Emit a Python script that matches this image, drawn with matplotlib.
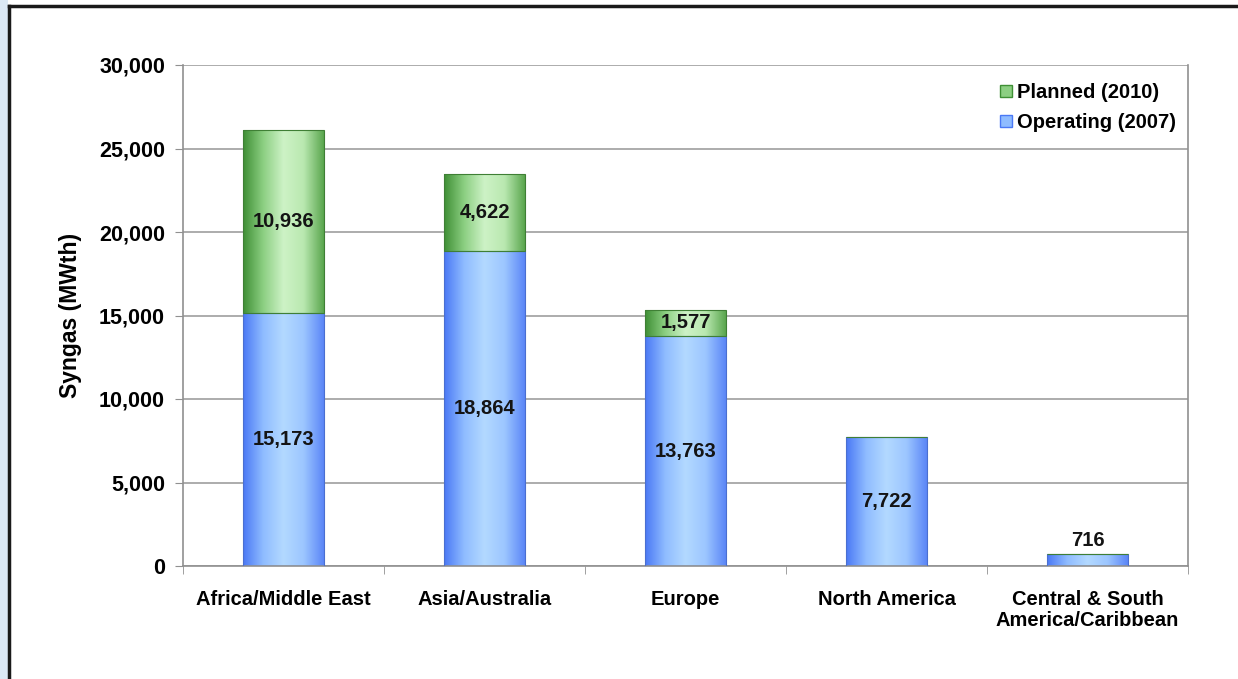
import numpy as np
import matplotlib
matplotlib.use("Agg")
import matplotlib.pyplot as plt
from matplotlib.colors import LinearSegmentedColormap
from matplotlib.patches import Rectangle, Patch

plt.rcParams['font.family'] = ['Liberation Sans', 'DejaVu Sans']
plt.rcParams['font.weight'] = 'bold'

# data
regions = ["Africa/Middle East", "Asia/Australia", "Europe", "North America",
           "Central & South\nAmerica/Caribbean"]
operating = [15173, 18864, 13763, 7722, 716]
planned = [10936, 4622, 1577, 0, 0]

green_cmap = LinearSegmentedColormap.from_list(
    "g", ["#3f8f35", "#8ccf82", "#cdf2c6", "#b9e8b0", "#5aa64e"])
blue_cmap = LinearSegmentedColormap.from_list(
    "b", ["#4a78f5", "#8fbcff", "#b3d9ff", "#9cc6ff", "#5b86f7"])

fig = plt.figure(figsize=(12.38, 6.79), dpi=100)
fig.patch.set_facecolor("white")

# outer frame and left strip
fig.add_artist(Rectangle((0, 0), 8 / 1238, 1, transform=fig.transFigure,
                         facecolor="#dce9f6", edgecolor="none"))
fig.add_artist(plt.Line2D([8.5 / 1238, 8.5 / 1238], [0, 1 - 5.5 / 679],
                          transform=fig.transFigure, color="#1a1a1a", lw=2.5))
fig.add_artist(plt.Line2D([8.5 / 1238, 1], [1 - 5.5 / 679, 1 - 5.5 / 679],
                          transform=fig.transFigure, color="#1a1a1a", lw=2.5))

ax = fig.add_axes([183 / 1238, 1 - 566 / 679, 1005 / 1238, 501 / 679])
x = np.arange(len(regions))
width = 0.4

bars_op = ax.bar(x, operating, width, color="none", edgecolor="#4a6fd0", lw=0.8,
                 label="Operating (2007)", zorder=3)
bars_pl = ax.bar(x, planned, width, bottom=operating, color="none",
                 edgecolor="#3f7f35", lw=0.8, label="Planned (2010)", zorder=3)

grad = np.linspace(0, 1, 256).reshape(1, -1)
for bars, cmap in ((bars_op, blue_cmap), (bars_pl, green_cmap)):
    for b in bars:
        if b.get_height() <= 0:
            continue
        bx, by = b.get_x(), b.get_y()
        im = ax.imshow(grad, cmap=cmap, aspect="auto", zorder=2,
                       extent=(bx, bx + b.get_width(), by, by + b.get_height()))
        im.set_clip_path(b)

ax.set_xlim(-0.5, 4.5)
ax.set_ylim(0, 30000)

# value labels
for i in range(len(regions)):
    op = operating[i]
    if op > 3000:
        ax.text(x[i], op / 2, f"{op:,}", ha="center", va="center",
                fontsize=14.5, fontweight="bold", color="#141414", zorder=4)
    else:
        ax.text(x[i], op + 250, f"{op:,}", ha="center", va="bottom",
                fontsize=14.5, fontweight="bold", color="#141414", zorder=4)
    pl = planned[i]
    if pl > 0:
        ax.text(x[i], op + pl / 2, f"{pl:,}", ha="center", va="center",
                fontsize=14.5, fontweight="bold", color="#141414", zorder=4)

ax.set_yticks(np.arange(0, 30001, 5000))
ax.set_yticklabels([f"{v:,}" for v in range(0, 30001, 5000)])
ax.yaxis.grid(True, color="#a6a6a6", lw=1.3, zorder=0)
ax.set_axisbelow(True)
ax.set_xticks(x)
ax.set_xticklabels(regions, fontsize=14.5, fontweight="bold", linespacing=1.15)
ax.set_xticks(np.arange(-0.5, 5, 1), minor=True)
ax.tick_params(axis="x", which="major", length=0, pad=17)
ax.tick_params(axis="x", which="minor", length=6, color="#909090")
ax.tick_params(axis="y", length=6, color="#909090", labelsize=15.5, pad=7)
for lab in ax.get_yticklabels():
    lab.set_fontweight("bold")
ax.set_ylabel("Syngas (MWth)", fontsize=16.5, fontweight="bold", labelpad=12)

for s in ("left", "right", "bottom"):
    ax.spines[s].set_color("#909090")
    ax.spines[s].set_linewidth(1.2)
ax.spines["top"].set_visible(False)

handles = [Patch(facecolor="#8ccf82", edgecolor="#3f8f35", label="Planned (2010)"),
           Patch(facecolor="#8fbcff", edgecolor="#4a78f5", label="Operating (2007)")]
ax.legend(handles=handles, loc="upper right", bbox_to_anchor=(0.996, 0.98),
          frameon=False, fontsize=14.5, handlelength=0.6, handleheight=0.6,
          handletextpad=0.25, labelspacing=0.55, borderaxespad=0)

fig.savefig("out.png", dpi=100)
